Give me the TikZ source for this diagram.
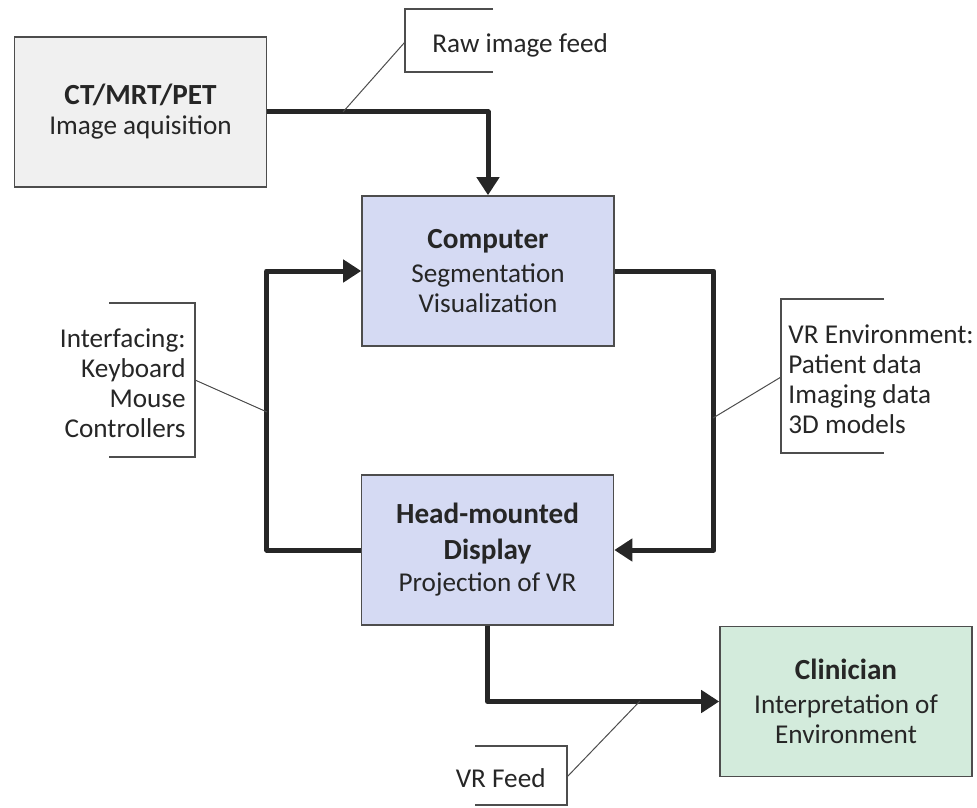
\documentclass[tikz,border=0pt]{standalone}
\usepackage{fontspec}
\setmainfont{Carlito}
\usetikzlibrary{arrows.meta}
\definecolor{acqgray}{HTML}{F0F0F0}
\definecolor{vrblue}{HTML}{D5DAF3}
\definecolor{clingreen}{HTML}{D3EBDC}
\definecolor{edgegray}{HTML}{4D4D4D}
\definecolor{inkdark}{HTML}{262626}
\newcommand{\blocktitle}[1]{{\fontsize{14.6}{17}\selectfont\bfseries #1}}
\begin{document}
\begin{tikzpicture}[x=0.5pt,y=-0.5pt,
		block/.style={draw=edgegray, line width=0.8pt, minimum width=126pt, minimum height=75pt,
			inner sep=0pt, align=center, text=inkdark, font=\fontsize{13.6}{15}\selectfont},
		flow/.style={draw=inkdark, line width=2.5pt, line join=round, -{Triangle[length=9pt,width=11pt]}},
		bracket/.style={draw=edgegray, line width=0.8pt},
		leader/.style={draw=edgegray, line width=0.5pt},
		note/.style={inner sep=0pt, text=inkdark, font=\fontsize{13.6}{15}\selectfont}]
		\useasboundingbox (0,0) rectangle (977,807);
		
		% Blocks
		\node[block, fill=acqgray] (ct) at (140.5,112) {\blocktitle{CT/MRT/PET}\\Image aquisition};
		\node[block, fill=vrblue] (comp) at (488,271) {\blocktitle{Computer}\\[2pt]Segmentation\\Visualization};
		\node[block, fill=vrblue] (hmd) at (487.5,550) {\blocktitle{Head-mounted}\\[3pt]\blocktitle{Display}\\[1pt]Projection of VR};
		\node[block, fill=clingreen] (clin) at (846,701.5) {\blocktitle{Clinician}\\[2pt]Interpretation of\\Environment};
		
		% Data flow
		\draw[flow] (ct.east) -| (comp.north);
		\draw[flow] (hmd.west) -- ++(-94,0) |- (comp.west);
		\draw[flow] (comp.east) -- ++(99,0) |- (hmd.east);
		\draw[flow] (hmd.south) |- (clin.west);
		
		% Annotations
		\node[note, anchor=west] (rawlbl) at (432,45) {Raw image feed};
		\draw[bracket] (493,9) -- (405,9) -- (405,72) -- (493,72);
		\coordinate (rawmid) at (405,42);
		\coordinate (rawtip) at (343,112);
		\draw[leader] (rawmid) -- (rawtip);
		
		\node[note, anchor=east, align=right] (iflbl) at (186,383) {Interfacing:\\Keyboard\\Mouse\\Controllers};
		\draw[bracket] (109,303) -- (195,303) -- (195,457) -- (109,457);
		\coordinate (ifmid) at (195,380);
		\coordinate (iftip) at (267,412);
		\draw[leader] (ifmid) -- (iftip);
		
		\node[note, anchor=west, align=left] (envlbl) at (788,379) {VR Environment:\\Patient data\\Imaging data\\3D models};
		\draw[bracket] (884,299) -- (781,299) -- (781,453) -- (884,453);
		\coordinate (envmid) at (781,377);
		\coordinate (envtip) at (713,418);
		\draw[leader] (envmid) -- (envtip);
		
		\node[note, anchor=east] (feedlbl) at (546,778) {VR Feed};
		\draw[bracket] (475,746) -- (567,746) -- (567,805) -- (475,805);
		\coordinate (feedmid) at (567,777);
		\coordinate (feedtip) at (640,701);
		\draw[leader] (feedmid) -- (feedtip);
	\end{tikzpicture}
\end{document}
